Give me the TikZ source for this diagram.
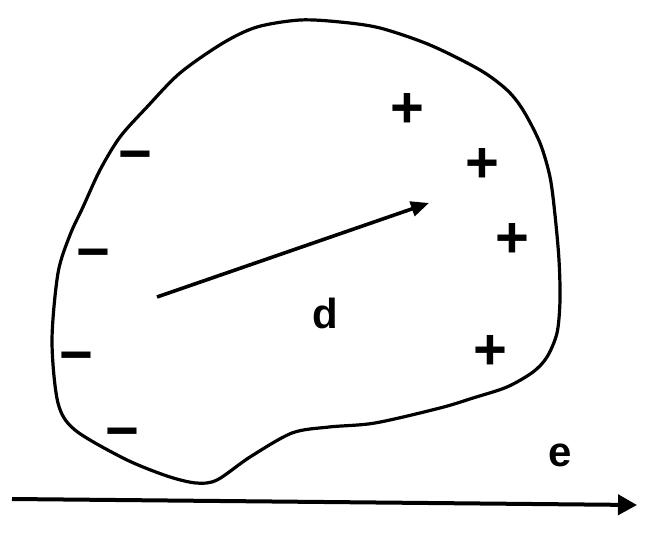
\documentclass[tikz,border=0pt]{standalone}
\usepackage{fontspec}
\setmainfont{Liberation Sans}
\usetikzlibrary{arrows.meta}

\tikzset{
  charge/.style={font=\fontsize{29}{29}\selectfont\bfseries,inner sep=0pt},
  vlabel/.style={font=\fontsize{21}{21}\selectfont\bfseries,inner sep=0pt}
}

\begin{document}
\begin{tikzpicture}[x=0.5pt,y=-0.5pt]
              \useasboundingbox (0,0) rectangle (652,534);
              % body outline
              \draw[line width=1.6pt] plot[smooth cycle,tension=0.5] coordinates {
                (300,20) (340,22) (380,28) (430,45) (480,70) (507,90)
                (523,110) (540,143) (550,177) (555,215) (559,260) (560,300)
                (557,333) (547,357) (533,372) (507,387) (473,398) (440,408)
                (375,423) (329,427) (292,433) (250,457) (217,480) (196,483)
                (167,476) (125,459) (75,430) (58,403) (52,341) (58,273)
                (70,235) (83,207) (100,170) (120,137) (147,107) (180,73)
                (223,43) (257,27)};

              % charges
              \foreach\Point in {(407,110), (482,165), (512,240), (490,352)}
                {\node[charge] at \Point {+};}
              \foreach\Point in {(135,162), (93,260), (76,363), (122,439)}
                {\node[charge] at \Point {−};}

              % dipole vector
              \coordinate (dtail) at (157,297);
              \coordinate (dhead) at (429,203);
              \draw[line width=1.8pt,-{Triangle[length=9pt,width=7.5pt]}] (dtail)--(dhead);
              \node[vlabel] (d) at (325,313) {d};

              % field
              \coordinate (eleft) at (12,499);
              \coordinate (eright) at (637,505);
              \draw[line width=2pt,-{Triangle[length=9.5pt,width=10pt]}] (eleft)--(eright);
              \node[vlabel] (e) at (560,455) {e};
\end{tikzpicture}
\end{document}
